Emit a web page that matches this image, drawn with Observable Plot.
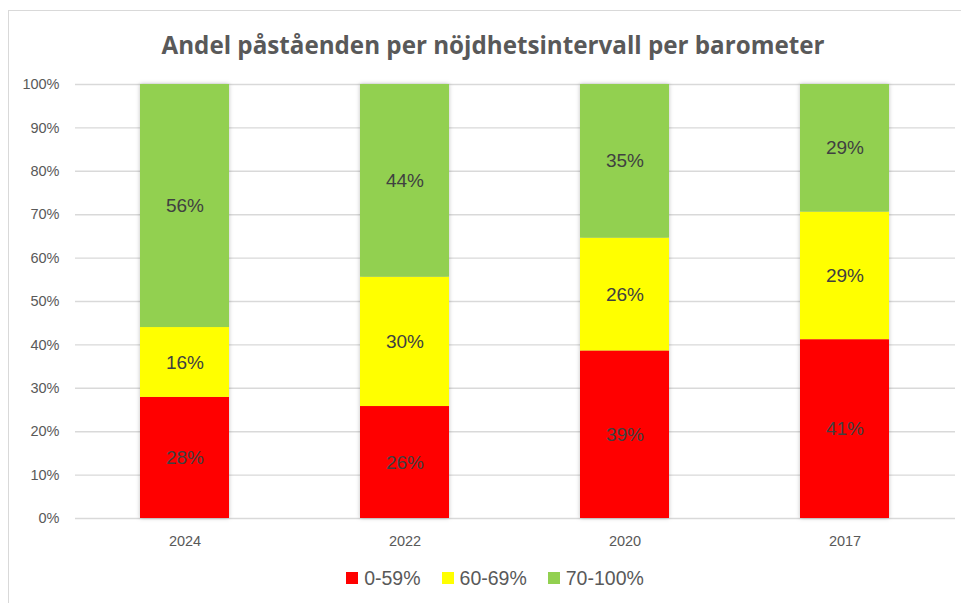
<!DOCTYPE html>
<html><head><meta charset="utf-8">
<script src="https://cdn.jsdelivr.net/npm/d3@7"></script>
<script src="https://cdn.jsdelivr.net/npm/@observablehq/plot@0.6"></script>
<style>
html,body{margin:0;padding:0;background:#fff;overflow:hidden;width:961px;height:603px;}
#frame{position:absolute;left:8px;top:10px;width:1100px;height:800px;border:1.5px solid #d9d9d9;box-sizing:border-box;}
#title{position:absolute;left:0;top:28px;width:986px;text-align:center;font-family:"Open Sans",sans-serif;font-weight:700;font-size:24.2px;line-height:34px;color:#595959;}
#chart{position:absolute;left:0;top:64px;}
#legend{position:absolute;left:0;top:566px;width:990px;display:flex;justify-content:center;gap:21px;font-family:"Liberation Sans",Arial,sans-serif;font-size:19.5px;color:#595959;line-height:24px;}
#legend .item{display:flex;align-items:center;gap:6px;}
#legend .sw{width:12px;height:12px;display:inline-block;}
</style></head>
<body>
<div id="frame"></div>
<div id="title">Andel påståenden per nöjdhetsintervall per barometer</div>
<div id="chart"></div>
<div id="legend"></div>
<script>
const years = ["2024", "2022", "2020", "2017"];
const categories = ["0-59%", "60-69%", "70-100%"];
const low = [27.9, 25.8, 38.6, 41.2];
const mid = [16.1, 29.8, 26.0, 29.4];
const high = [56.0, 44.4, 35.4, 29.4];
const colors = ["#FF0000", "#FFFF00", "#92D050"];
const yTicks = [0, 10, 20, 30, 40, 50, 60, 70, 80, 90, 100];

const series = [low, mid, high];
const data = [];
years.forEach((y, i) => {
  categories.forEach((c, j) => data.push({year: y, cat: c, value: series[j][i]}));
});

const font = '"Liberation Sans", Arial, sans-serif';
const chart = Plot.plot({
  width: 961,
  height: 494,
  marginTop: 20,
  marginBottom: 40,
  marginLeft: 75,
  marginRight: 6,
  style: {fontFamily: font, fontSize: "14.5px", color: "#595959", background: "transparent"},
  x: {domain: years, paddingInner: 0.595, paddingOuter: 0.2975, label: null},
  y: {domain: [0, 100], label: null},
  color: {domain: categories, range: colors},
  marks: [
    Plot.ruleY(yTicks, {stroke: "#d9d9d9", strokeWidth: 1.4}),
    Plot.barY(data, Plot.stackY({x: "year", y: "value", z: "cat", order: categories, fill: "cat", imageFilter: "drop-shadow(0px 0px 2px rgba(0,0,0,0.25))"})),
    Plot.text(data, Plot.stackY({x: "year", y: "value", z: "cat", order: categories, text: d => Math.round(d.value) + "%", fill: "#404040", fontSize: 19})),
    Plot.axisY({ticks: yTicks, tickSize: 0, tickPadding: 16, tickFormat: d => d + "%", label: null}),
    Plot.axisX({tickSize: 0, tickPadding: 17, label: null})
  ]
});
document.getElementById("chart").appendChild(chart);

const legend = document.getElementById("legend");
categories.forEach((c, i) => {
  const item = document.createElement("span");
  item.className = "item";
  const sw = document.createElement("span");
  sw.className = "sw";
  sw.style.background = colors[i];
  const t = document.createElement("span");
  t.textContent = c;
  item.appendChild(sw);
  item.appendChild(t);
  legend.appendChild(item);
});
</script>
</body></html>
